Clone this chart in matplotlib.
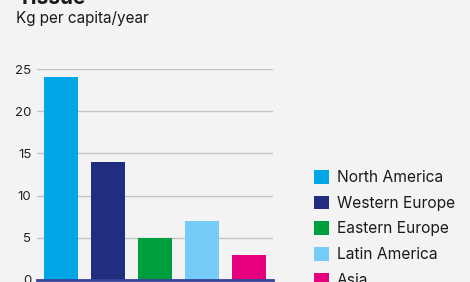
import matplotlib.pyplot as plt
from matplotlib.patches import Patch

plt.rcParams["font.family"] = ["Inter", "DejaVu Sans"]

regions = ["North America", "Western Europe", "Eastern Europe", "Latin America", "Asia"]
kg_per_capita = [24, 14, 5, 7, 3]
colors = ["#00a6e6", "#212e80", "#009e3d", "#75cdf7", "#e6007e"]
yticks = [0, 5, 10, 15, 20, 25]

W, H = 470, 282
bg = "#f3f3f3"

fig = plt.figure(figsize=(W / 100, H / 100), dpi=100, facecolor=bg)
ax = fig.add_axes([37 / W, (H - 280) / H, 236 / W, 211 / H], facecolor=bg)

ax.bar(range(len(regions)), kg_per_capita, width=0.72, color=colors, zorder=3)
ax.set_xlim(-0.5, len(regions) - 0.5)
ax.set_ylim(0, 25)
ax.set_yticks(yticks)
ax.set_xticks([])
ax.grid(axis="y", color="#c4c4c4", linewidth=1, zorder=0)
ax.axhline(0, color="#34449a", linewidth=2, zorder=4, clip_on=False)
for s in ax.spines.values():
    s.set_visible(False)
ax.tick_params(axis="y", length=0, pad=4, labelsize=9.5, labelcolor="#222222")

# titre coupé en haut, comme dans l'original
fig.text(17 / W, 1 - 4 / H, "Tissue", fontsize=15, fontweight="bold",
         color="#1a1a1a", va="baseline", ha="left")
fig.text(16 / W, 1 - 22.5 / H, "Kg per capita/year", fontsize=11,
         color="#1a1a1a", va="baseline", ha="left")

handles = [Patch(facecolor=c, edgecolor="none") for c in colors]
fig.legend(handles, regions, loc="upper left",
           bbox_to_anchor=(314 / W, 1 - 170 / H), frameon=False,
           fontsize=11.2, handlelength=0.96, handleheight=0.96,
           handletextpad=0.5, labelspacing=0.68, borderpad=0,
           borderaxespad=0, labelcolor="#1a1a1a")

fig.savefig("out.png", dpi=100, facecolor=bg)
